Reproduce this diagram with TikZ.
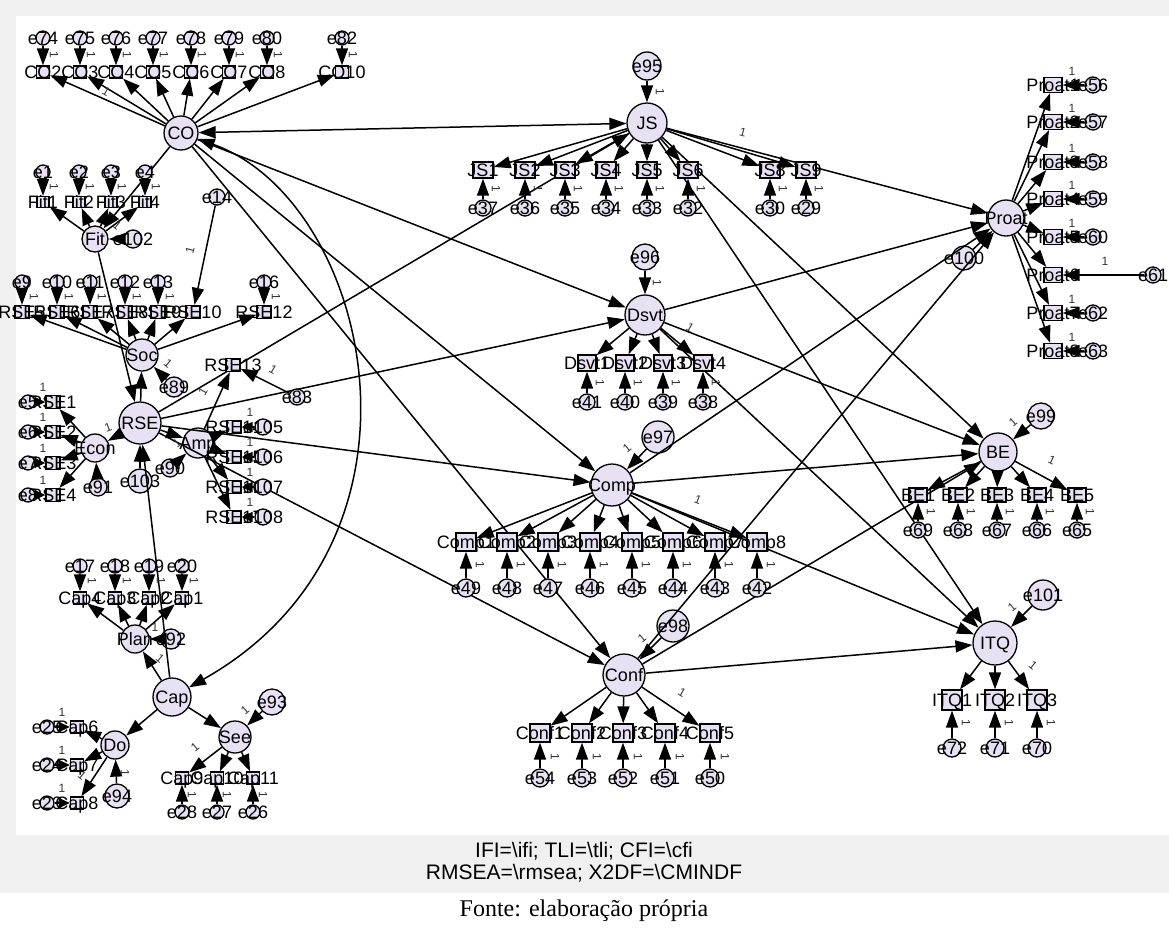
\documentclass[tikz,border=0pt]{standalone}
\usepackage{fontspec}
\setmainfont{Liberation Sans}
\newfontfamily\capfont{Liberation Serif}
\usetikzlibrary{arrows.meta}
\definecolor{lav}{RGB}{232,224,243}
\definecolor{framegray}{RGB}{240,240,240}
% centred label that does not enlarge its shape
\newcommand\lbl[1]{\smash{\makebox[0pt]{\raisebox{-0.5\height}{#1}}}}

\begin{document}
\begin{tikzpicture}[x=1pt,y=-1pt,
  font=\fontsize{18}{18}\selectfont,
  lat/.style={circle,draw=black,fill=lav,line width=1.3pt,inner sep=0pt,minimum size=#1},
  err/.style={circle,draw=black,fill=lav,line width=1.3pt,inner sep=0pt,minimum size=#1},
  obs/.style 2 args={rectangle,draw=black,fill=lav,line width=1.3pt,inner sep=0pt,minimum width=#1,minimum height=#2},
  arr/.style={-{Triangle[length=17pt,width=12pt]},line width=1.5pt},
  arrs/.style={-{Triangle[length=11pt,width=10pt]},line width=1.5pt},
  arrtwo/.style={{Triangle[length=17pt,width=12pt]}-{Triangle[length=17pt,width=12pt]},line width=1.5pt},
  one/.style={font=\fontsize{12}{12}\selectfont,inner sep=0pt,text=black!80},
  captext/.style={font=\fontsize{21}{21}\selectfont,inner sep=0pt},
]
\useasboundingbox (0,0) rectangle (1169,929);

% frame and caption band
\fill[framegray] (0,0) rectangle (1169,893);
\fill[white] (16,16) rectangle (1169,835);
\node[captext] (fitA) at (584,851) {IFI=\textbackslash ifi; TLI=\textbackslash tli; CFI=\textbackslash cfi};
\node[captext] (fitB) at (584,873) {RMSEA=\textbackslash rmsea; X2DF=\textbackslash CMINDF};
\node[font=\capfont\fontsize{24}{24}\selectfont,inner sep=0pt] (src) at (584,911) {Fonte: elaboração própria};

% latent variables
\node[lat=34pt] (CO) at (181,133) {\lbl{CO}};
\node[lat=40pt] (JS) at (647,123) {\lbl{JS}};
\node[lat=36pt] (Proat) at (1006,218) {\lbl{Proat}};
\node[lat=26pt] (Fit) at (95,239) {\lbl{Fit}};
\node[lat=32pt] (Soc) at (142,355) {\lbl{Soc}};
\node[lat=42pt] (RSE) at (140,423) {\lbl{RSE}};
\node[lat=28pt] (Econ) at (95,448) {\lbl{Econ}};
\node[lat=30pt] (Amp) at (198,443) {\lbl{Amp}};
\node[lat=40pt] (Dsvt) at (645,315) {\lbl{Dsvt}};
\node[lat=42pt] (Comp) at (612,485) {\lbl{Comp}};
\node[lat=38pt] (BE) at (998,452) {\lbl{BE}};
\node[lat=44pt] (ITQ) at (995,643) {\lbl{ITQ}};
\node[lat=42pt] (Conf) at (624,675) {\lbl{Conf}};
\node[lat=28pt] (Plan) at (135,639) {\lbl{Plan}};
\node[lat=38pt] (Cap) at (172,697) {\lbl{Cap}};
\node[lat=28pt] (Do) at (115,745) {\lbl{Do}};
\node[lat=32pt] (See) at (235,737) {\lbl{See}};

% disturbances of the latent variables
\foreach \e/\x/\y/\s in {95/647/66/28pt,96/645/257/26pt,97/658/437/32pt,98/673/626/32pt,
  99/1041/416/26pt,100/964/258/24pt,101/1043/595/30pt,102/133/239/18pt,89/174/387/20pt,
  90/170/468/18pt,91/98/487/18pt,103/140/481/24pt,92/171/639/20pt,93/272/702/26pt,94/117/796/24pt}
  \node[err=\s] (e\e) at (\x,\y) {\lbl{e\e}};

% structural paths
\draw[arrtwo] (CO) -- (JS);
\draw[arrtwo] (CO) .. controls (370,200) and (450,540) .. (Cap);
\foreach \a/\b in {CO/Fit,CO/Dsvt,CO/Comp,CO/Conf,Fit/RSE,Cap/RSE,Cap/Plan,Cap/Do,Cap/See,
  RSE/Soc,RSE/Econ,RSE/Amp,RSE/JS,RSE/Dsvt,RSE/Comp,RSE/Conf,
  JS/Proat,JS/BE,JS/ITQ,Dsvt/Proat,Dsvt/BE,Dsvt/ITQ,Comp/Proat,Comp/BE,Comp/ITQ,
  Conf/Proat,Conf/BE,Conf/ITQ}
  \draw[arr] (\a) -- (\b);
\foreach \e/\b in {95/JS,96/Dsvt,97/Comp,98/Conf,99/BE,100/Proat,101/ITQ,102/Fit,89/Soc,
  90/Amp,91/Econ,103/RSE,92/Plan,93/See,94/Do}
  \draw[arr] (e\e) -- (\b);

% CO indicators
\foreach \n/\x/\e in {2/43/74,3/80/75,4/116/76,5/153/77,6/191/78,7/229/79,8/267/80,10/342/82} {
  \node[obs={13pt}{12pt}] (CO\n) at (\x,72) {\lbl{CO\n}};
  \node[err=14pt] (e\e) at (\x,38) {\lbl{e\e}};
  \draw[arr] (e\e) -- (CO\n);
  \draw[arr] (CO) -- (CO\n);
  \node[one,rotate=-90] (m\e) at (\x+11,55) {1};
}
% Fit indicators
\foreach \n/\x in {1/43,2/79,3/111,4/145} {
  \node[obs={12pt}{11pt}] (Fit\n) at (\x,202) {\lbl{Fit\n}};
  \node[err=14pt] (e\n) at (\x,172) {\lbl{e\n}};
  \draw[arr] (e\n) -- (Fit\n);
  \draw[arr] (Fit) -- (Fit\n);
  \node[one,rotate=-90] (m\n) at (\x+11,187) {1};
}
% Soc indicators
\foreach \n/\x/\e in {5/22/9,6/57/10,7/90/11,8/125/12,9/158/13,12/264/16} {
  \node[obs={14pt}{13pt}] (RSE\n) at (\x,312) {\lbl{RSE\n}};
  \node[err=14pt] (e\e) at (\x,282) {\lbl{e\e}};
  \draw[arr] (e\e) -- (RSE\n);
  \draw[arr] (Soc) -- (RSE\n);
  \node[one,rotate=-90] (m\e) at (\x+12,297) {1};
}
\node[obs={14pt}{13pt}] (RSE10) at (193,312) {\lbl{RSE10}};
\node[err=16pt] (e14) at (217,197) {\lbl{e14}};
\draw[arr] (e14) -- (RSE10);
\draw[arr] (Soc) -- (RSE10);
% Econ indicators
\foreach \n/\y/\e in {1/402/5,2/432/6,3/463/7,4/495/8} {
  \node[obs={14pt}{13pt}] (RSE\n) at (53,\y) {\lbl{RSE\n}};
  \node[err=14pt] (e\e) at (28,\y) {\lbl{e\e}};
  \draw[arrs] (e\e) -- (RSE\n);
  \draw[arr] (Econ) -- (RSE\n);
  \node[one] (m\e) at (43,\y-15) {1};
}
% Amp indicators
\foreach \n/\y/\e in {14/427/105,15/457/106,16/487/107,17/517/108} {
  \node[obs={14pt}{13pt}] (RSE\n) at (234,\y) {\lbl{RSE\n}};
  \node[err=16pt] (e\e) at (263,\y) {\lbl{e\e}};
  \draw[arrs] (e\e) -- (RSE\n);
  \draw[arr] (Amp) -- (RSE\n);
  \node[one] (m\e) at (250,\y-15) {1};
}
\node[obs={14pt}{13pt}] (RSE13) at (233,365) {\lbl{RSE13}};
\node[err=16pt] (e83) at (297,397) {\lbl{e83}};
\draw[arr] (e83) -- (RSE13);
\draw[arr] (Amp) -- (RSE13);
% Plan indicators
\foreach \n/\x/\e in {4/80/17,3/115/18,2/149/19,1/182/20} {
  \node[obs={13pt}{12pt}] (Cap\n) at (\x,598) {\lbl{Cap\n}};
  \node[err=14pt] (e\e) at (\x,566) {\lbl{e\e}};
  \draw[arr] (e\e) -- (Cap\n);
  \draw[arr] (Plan) -- (Cap\n);
  \node[one,rotate=-90] (m\e) at (\x+12,581) {1};
}
% Do indicators
\foreach \n/\y/\e in {6/727/25,7/765/24,8/803/23} {
  \node[obs={13pt}{12pt}] (Cap\n) at (77,\y) {\lbl{Cap\n}};
  \node[err=14pt] (e\e) at (47,\y) {\lbl{e\e}};
  \draw[arrs] (e\e) -- (Cap\n);
  \draw[arr] (Do) -- (Cap\n);
  \node[one] (m\e) at (62,\y-15) {1};
}
% See indicators
\foreach \n/\x/\e in {9/182/28,10/217/27,11/253/26} {
  \node[obs={13pt}{12pt}] (Cap\n) at (\x,778) {\lbl{Cap\n}};
  \node[err=14pt] (e\e) at (\x,812) {\lbl{e\e}};
  \draw[arr] (e\e) -- (Cap\n);
  \draw[arr] (See) -- (Cap\n);
  \node[one,rotate=-90] (m\e) at (\x+10,795) {1};
}
% JS indicators
\foreach \n/\x/\e in {1/483/37,2/525/36,3/565/35,4/606/34,5/647/33,6/688/32,8/770/30,9/806/29} {
  \node[obs={20pt}{16pt}] (JS\n) at (\x,170) {\lbl{JS\n}};
  \node[err=16pt] (e\e) at (\x,208) {\lbl{e\e}};
  \draw[arr] (e\e) -- (JS\n);
  \draw[arr] (JS) -- (JS\n);
  \node[one,rotate=-90] (m\e) at (\x+13,189) {1};
}
% Dsvt indicators
\foreach \n/\x/\e in {1/587/41,2/625/40,3/663/39,4/703/38} {
  \node[obs={18pt}{16pt}] (Dsvt\n) at (\x,363) {\lbl{Dsvt\n}};
  \node[err=16pt] (e\e) at (\x,402) {\lbl{e\e}};
  \draw[arr] (e\e) -- (Dsvt\n);
  \draw[arr] (Dsvt) -- (Dsvt\n);
  \node[one,rotate=-90] (m\e) at (\x+13,383) {1};
}
% Comp indicators
\foreach \n/\x/\e in {1/466/49,2/507/48,3/548/47,4/590/46,5/632/45,6/673/44,7/715/43,8/757/42} {
  \node[obs={20pt}{18pt}] (Comp\n) at (\x,542) {\lbl{Comp\n}};
  \node[err=18pt] (e\e) at (\x,588) {\lbl{e\e}};
  \draw[arr] (e\e) -- (Comp\n);
  \draw[arr] (Comp) -- (Comp\n);
  \node[one,rotate=-90] (m\e) at (\x+14,565) {1};
}
% Conf indicators
\foreach \n/\x/\e in {1/540/54,2/582/53,3/623/52,4/665/51,5/710/50} {
  \node[obs={20pt}{18pt}] (Conf\n) at (\x,733) {\lbl{Conf\n}};
  \node[err=18pt] (e\e) at (\x,778) {\lbl{e\e}};
  \draw[arr] (e\e) -- (Conf\n);
  \draw[arr] (Conf) -- (Conf\n);
  \node[one,rotate=-90] (m\e) at (\x+15,757) {1};
}
% BE indicators
\foreach \n/\x/\e in {1/918/69,2/958/68,3/997/67,4/1037/66,5/1077/65} {
  \node[obs={18pt}{14pt}] (BE\n) at (\x,495) {\lbl{BE\n}};
  \node[err=16pt] (e\e) at (\x,530) {\lbl{e\e}};
  \draw[arr] (e\e) -- (BE\n);
  \draw[arr] (BE) -- (BE\n);
  \node[one,rotate=-90] (m\e) at (\x+13,512) {1};
}
% ITQ indicators
\foreach \n/\x/\e in {1/952/72,2/995/71,3/1037/70} {
  \node[obs={20pt}{20pt}] (ITQ\n) at (\x,700) {\lbl{ITQ\n}};
  \node[err=18pt] (e\e) at (\x,748) {\lbl{e\e}};
  \draw[arr] (e\e) -- (ITQ\n);
  \draw[arr] (ITQ) -- (ITQ\n);
  \node[one,rotate=-90] (m\e) at (\x+14,723) {1};
}
% Proat indicators
\foreach \n/\y/\e/\ex in {1/85/56/1093,2/122/57/1093,3/162/58/1093,4/199/59/1093,5/237/60/1093,
  6/275/61/1153,7/313/62/1093,8/351/63/1093} {
  \node[obs={18pt}{15pt}] (Proat\n) at (1053,\y) {\lbl{Proat\n}};
  \node[err=16pt] (e\e) at (\ex,\y) {\lbl{e\e}};
  \draw[arr] (e\e) -- (Proat\n);
  \draw[arr] (Proat) -- (Proat\n);
}
\foreach \n/\x/\y in {56/1072/71,57/1072/108,58/1072/148,59/1072/185,60/1072/223,61/1105/261,62/1072/299,63/1072/337}
  \node[one] (p\n) at (\x,\y) {1};

% fixed loadings
\foreach \k/\x/\y/\r in {1/106/92/-30,2/117/225/-40,3/190/250/75,4/168/363/-40,5/203/392/60,
  6/273/370/-30,7/108/427/20,8/177/443/40,9/743/132/-15,10/690/328/-30,11/698/500/-20,
  12/627/448/40,13/682/693/-30,14/642/638/40,15/1052/460/-25,16/1013/422/40,17/1033/665/-40,
  18/1012/607/40,19/155/627/0,20/160/658/-40,21/245/710/40,22/195/747/40,23/82/775/-40}
  \node[one,rotate=\r] (l\k) at (\x,\y) {1};
\foreach \k/\x/\y in {24/660/92,25/657/283,26/125/773}
  \node[one,rotate=-90] (l\k) at (\x,\y) {1};
\end{tikzpicture}
\end{document}
